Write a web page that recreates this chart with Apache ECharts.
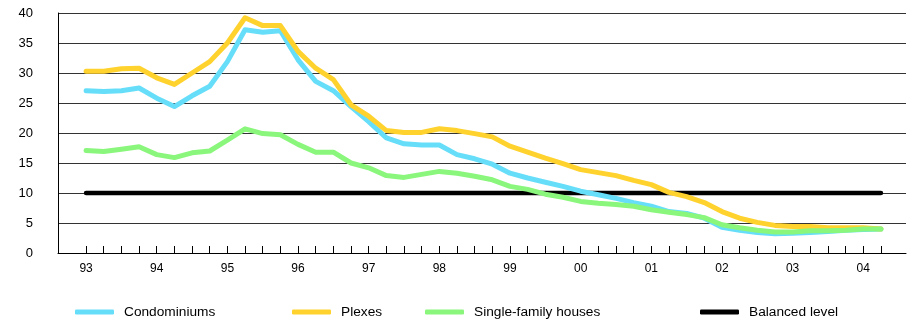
<!DOCTYPE html>
<html>
<head>
<meta charset="utf-8">
<script src="https://cdn.jsdelivr.net/npm/echarts@6/dist/echarts.min.js"></script>
<style>
  html, body { margin: 0; padding: 0; background: #ffffff; }
  #chart { width: 919px; height: 320px; }
</style>
</head>
<body>
<div id="chart"></div>
<script>
// Year labels shown under the first quarter of each year
const yearLabels = ['93', '94', '95', '96', '97', '98', '99', '00', '01', '02', '03', '04'];

// Quarterly values, 1993 Q1 to 2004 Q2
const condominiums = [
  27.05, 26.9, 27.05, 27.5, 25.8, 24.4, 26.2, 27.8, 31.9, 37.2, 36.8, 37.05,
  32.2, 28.6, 27.05, 24.4, 21.9, 19.2, 18.2, 18.0, 18.0, 16.4, 15.7, 14.8,
  13.3, 12.5, 11.8, 11.1, 10.3, 9.7, 9.1, 8.4, 7.8, 6.9, 6.6, 5.8,
  4.3, 3.8, 3.4, 3.2, 3.3, 3.4, 3.6, 3.8, 3.9, 4.0
];
const plexes = [
  30.3, 30.3, 30.7, 30.8, 29.2, 28.1, 30.0, 31.9, 35.0, 39.2, 37.9, 37.9,
  33.6, 30.8, 28.9, 24.7, 22.8, 20.4, 20.1, 20.1, 20.7, 20.4, 19.9, 19.35,
  17.8, 16.8, 15.8, 14.9, 13.9, 13.4, 12.9, 12.1, 11.4, 10.1, 9.4, 8.4,
  6.9, 5.8, 5.1, 4.6, 4.4, 4.4, 4.2, 4.2, 4.2, 4.0
];
const singleFamily = [
  17.1, 16.9, 17.3, 17.7, 16.4, 15.9, 16.7, 17.0, 18.8, 20.7, 19.9, 19.7,
  18.1, 16.8, 16.8, 15.0, 14.2, 12.9, 12.6, 13.1, 13.6, 13.3, 12.8, 12.2,
  11.1, 10.6, 9.8, 9.3, 8.6, 8.3, 8.1, 7.8, 7.2, 6.8, 6.4, 5.9,
  4.7, 4.2, 3.8, 3.5, 3.5, 3.7, 3.7, 3.8, 4.0, 4.0
];
const balancedLevel = 10;

const seriesNames = ['Condominiums', 'Plexes', 'Single-family houses', 'Balanced level'];
const seriesColors = ['#66DEF9', '#FFD22E', '#8AF77C', '#000000'];

const lastQuarter = condominiums.length - 1;
const toPoints = values => values.map((v, i) => [i, v]);
const tickQuarters = condominiums.map((_, i) => i);
const labelQuarters = yearLabels.map((_, i) => i * 4);

const font = '"Liberation Sans", Arial, sans-serif';

function legendAt(name, left) {
  return {
    data: [name],
    left: left,
    top: 300,
    icon: 'roundRect',
    itemWidth: 39,
    itemHeight: 5,
    itemGap: 0,
    selectedMode: false,
    textStyle: { fontFamily: font, fontSize: 13.7, color: '#000', padding: [0, 0, 0, 5] }
  };
}

function lineSeries(name, color, data, width, z) {
  return {
    name: name,
    type: 'line',
    data: data,
    showSymbol: false,
    symbol: 'none',
    smooth: false,
    z: z,
    color: color,
    lineStyle: { color: color, width: width, cap: 'round', join: 'round' },
    emphasis: { disabled: true },
    silent: true
  };
}

const chart = echarts.init(document.getElementById('chart'), null, { renderer: 'canvas' });

chart.setOption({
  animation: false,
  backgroundColor: '#ffffff',
  textStyle: { fontFamily: font },
  grid: { left: 58, top: 13, width: 848, height: 240, containLabel: false },
  legend: [
    legendAt(seriesNames[0], 70),
    legendAt(seriesNames[1], 287),
    legendAt(seriesNames[2], 420),
    legendAt(seriesNames[3], 695)
  ],
  xAxis: {
    type: 'value',
    min: -1.59,
    max: 46.42,
    axisLine: { show: true, onZero: false, lineStyle: { color: '#000', width: 1 } },
    axisTick: {
      show: true,
      inside: true,
      length: 7,
      customValues: tickQuarters,
      lineStyle: { color: '#000', width: 1 }
    },
    axisLabel: {
      customValues: labelQuarters,
      formatter: v => yearLabels[Math.round(v / 4)],
      margin: 10,
      fontSize: 12,
      color: '#000',
      fontFamily: font
    },
    splitLine: { show: false }
  },
  yAxis: {
    type: 'value',
    min: 0,
    max: 40,
    interval: 5,
    axisLine: { show: true, onZero: false, lineStyle: { color: '#000', width: 1 } },
    axisTick: { show: false },
    axisLabel: { margin: 25, fontSize: 13, color: '#000', fontFamily: font },
    splitLine: { show: true, lineStyle: { color: '#333', width: 1 } }
  },
  series: [
    lineSeries(seriesNames[3], seriesColors[3], [[0, balancedLevel], [lastQuarter, balancedLevel]], 4.5, 2),
    lineSeries(seriesNames[0], seriesColors[0], toPoints(condominiums), 5, 3),
    lineSeries(seriesNames[1], seriesColors[1], toPoints(plexes), 5, 4),
    lineSeries(seriesNames[2], seriesColors[2], toPoints(singleFamily), 5, 5)
  ]
});
</script>
</body>
</html>
